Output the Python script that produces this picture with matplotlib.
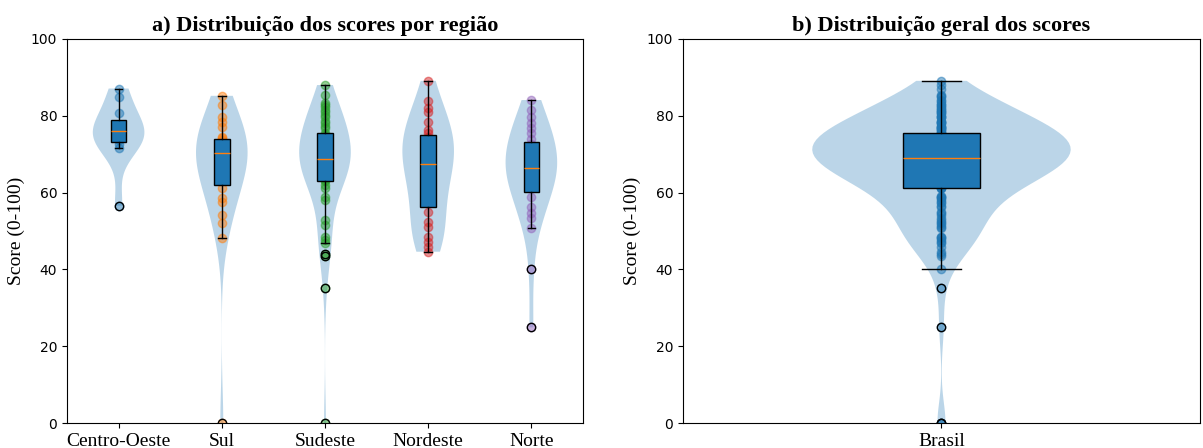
import numpy as np
import matplotlib.pyplot as plt

# scores, por regiao
regioes = ['Centro-Oeste', 'Sul', 'Sudeste', 'Nordeste', 'Norte']

centro_oeste = [56.6, 71.7, 72.6, 73.8, 75.0, 76.1, 76.6, 77.0, 80.8, 85.0, 87.1]
sul = [0.0, 48.1, 52.0, 54.2, 57.6, 58.5, 61.1, 62.9, 64.0, 65.3, 66.5, 67.8, 69.0, 70.2,
       70.8, 71.4, 72.0, 72.5, 73.0, 73.6, 74.2, 74.6, 77.2, 78.5, 79.8, 82.8, 85.2]
sudeste = [0.0, 35.1, 43.5, 44.0, 46.8, 47.7, 48.5, 51.6, 52.9, 58.1, 58.9, 61.1, 62.0,
           63.0, 63.4, 63.9, 64.7, 65.1, 65.8, 66.2, 66.9, 67.3, 67.6, 68.0, 68.3, 68.5, 68.7,
           69.1, 69.6, 70.2, 70.8, 71.3, 71.9, 72.4, 73.0, 73.6, 74.1, 74.6, 75.0, 75.4,
           76.7, 77.3, 78.0, 78.6, 79.8, 80.3, 81.1, 81.6, 82.4, 82.8, 83.4, 85.5, 88.0]
nordeste = [44.6, 45.9, 47.2, 48.5, 51.1, 52.4, 55.0, 57.4, 59.0, 61.2, 63.1, 64.8, 66.3, 67.4,
            68.5, 69.8, 71.0, 72.3, 73.4, 74.4, 75.6, 76.3, 78.5, 81.1, 81.9, 83.9, 89.1]
norte = [24.9, 40.2, 50.7, 53.3, 54.6, 56.3, 58.9, 61.5, 62.3, 63.2, 64.0, 64.9, 65.7, 66.5,
         67.4, 68.5, 69.6, 70.7, 71.6, 72.6, 74.0, 75.4, 76.7, 78.0, 79.8, 81.5, 84.1]

dados = [centro_oeste, sul, sudeste, nordeste, norte]
brasil = centro_oeste + sul + sudeste + nordeste + norte

cores = ['C0', 'C1', 'C2', 'C3', 'C4']
serif = 'Liberation Serif'

fig = plt.figure(figsize=(12.03, 4.48), dpi=100)
ax1 = fig.add_axes([0.0557, 0.0558, 0.4289, 0.8572])
ax2 = fig.add_axes([0.5677, 0.0558, 0.4298, 0.8572])

# a) por regiao
pos = np.arange(1, len(regioes) + 1)
ax1.violinplot(dados, positions=pos, widths=0.5, showextrema=False)
for p, d, c in zip(pos, dados, cores):
    ax1.scatter(np.full(len(d), p), d, color=c, alpha=0.5, s=36)
ax1.boxplot(dados, positions=pos, widths=0.15, patch_artist=True,
            boxprops=dict(facecolor='C0', edgecolor='black'))
ax1.set_xticks(pos)
ax1.set_xticklabels(regioes, family=serif, fontsize=14)
ax1.set_xlim(0.5, 5.5)
ax1.set_ylim(0, 100)
ax1.set_ylabel('Score (0-100)', family=serif, fontsize=14)
ax1.set_title('a) Distribuição dos scores por região', family=serif, fontsize=16, fontweight='bold')

# b) geral
ax2.violinplot([brasil], positions=[1], widths=0.5, showextrema=False)
ax2.scatter(np.ones(len(brasil)), brasil, color='C0', alpha=0.5, s=36)
ax2.boxplot([brasil], positions=[1], widths=0.15, patch_artist=True,
            boxprops=dict(facecolor='C0', edgecolor='black'))
ax2.set_xticks([1])
ax2.set_xticklabels(['Brasil'], family=serif, fontsize=14)
ax2.set_xlim(0.5, 1.5)
ax2.set_ylim(0, 100)
ax2.set_ylabel('Score (0-100)', family=serif, fontsize=14)
ax2.set_title('b) Distribuição geral dos scores', family=serif, fontsize=16, fontweight='bold')

fig.savefig('out.png')
